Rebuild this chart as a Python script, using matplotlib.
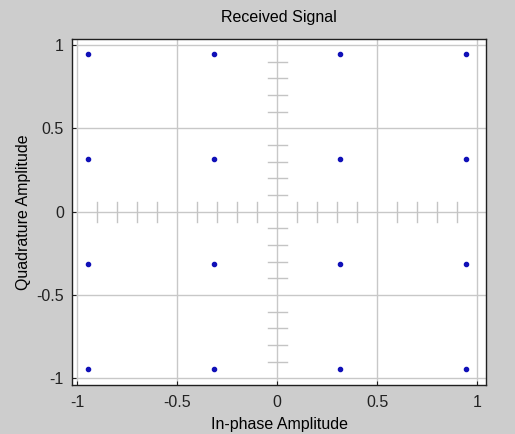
import matplotlib
matplotlib.use("Agg")

import matplotlib.pyplot as plt
import numpy as np

# 16-QAM received constellation (normalised levels)
levels = [-0.945, -0.316, 0.316, 0.945]
in_phase = [i for i in levels for q in levels]
quadrature = [q for i in levels for q in levels]

ticks = [-1, -0.5, 0, 0.5, 1]
tick_labels = ["-1", "-0.5", "0", "0.5", "1"]
# little dashes along the zero lines, every 0.1
minor_marks = [-0.9, -0.8, -0.7, -0.6, -0.4, -0.3, -0.2, -0.1,
               0.1, 0.2, 0.3, 0.4, 0.6, 0.7, 0.8, 0.9]

bg = "#cdcdcd"
grid_col = "#c8c8c8"

plt.rcParams["font.family"] = ["Liberation Sans", "DejaVu Sans"]

fig = plt.figure(figsize=(5.15, 4.34), dpi=100, facecolor=bg)
ax = fig.add_axes([0.140, 0.113, 0.804, 0.797])
ax.set_facecolor("white")

ax.set_xlim(-1.025, 1.045)
ax.set_ylim(-1.04, 1.035)

ax.set_xticks(ticks)
ax.set_xticklabels(tick_labels)
ax.set_yticks(ticks)
ax.set_yticklabels(tick_labels)
ax.grid(True, color=grid_col, linewidth=1.0)
ax.set_axisbelow(True)
ax.tick_params(direction="in", length=3, width=0.8, labelsize=11.5,
               colors="#222222")
ax.tick_params(axis="x", pad=7)
ax.tick_params(axis="y", pad=6)

for side in ax.spines.values():
    side.set_color("#202020")
    side.set_linewidth(1.0)

# zero-line dashes
for m in minor_marks:
    ax.plot([m, m], [-0.06, 0.06], color="#c4c4c4", linewidth=1.0, zorder=1)
    ax.plot([-0.048, 0.048], [m, m], color="#c4c4c4", linewidth=1.0, zorder=1)

ax.plot(in_phase, quadrature, linestyle="none", marker=".",
        markersize=6, color="#1010b8", zorder=3)

ax.set_title("Received Signal", fontsize=11.5, pad=12)
ax.set_xlabel("In-phase Amplitude", fontsize=11.5, labelpad=5)
ax.set_ylabel("Quadrature Amplitude", fontsize=11.5, labelpad=4)

fig.savefig("out.png", dpi=100, facecolor=bg)
